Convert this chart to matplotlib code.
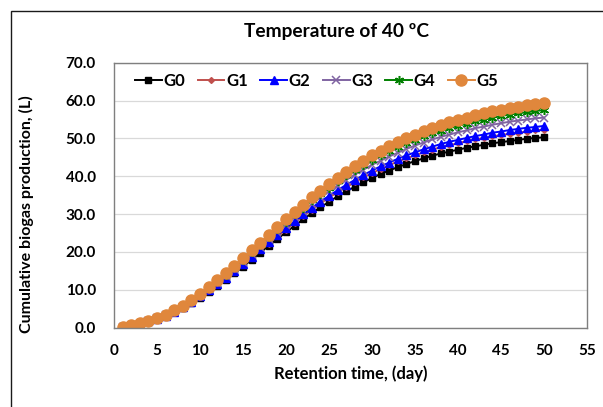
import matplotlib
matplotlib.use("Agg")
import matplotlib.pyplot as plt
from matplotlib.patches import Rectangle

days = list(range(1, 51))

g0 = [0.1, 0.4, 0.9, 1.5, 2.2, 3.0, 4.0, 5.1, 6.4, 7.8, 9.3, 10.9, 12.6, 14.3, 16.1, 17.9, 19.8, 21.6, 23.4, 25.2,
      26.9, 28.6, 30.2, 31.8, 33.2, 34.7, 36.0, 37.2, 38.4, 39.5, 40.6, 41.5, 42.4, 43.2, 44.0, 44.7, 45.4, 46.0, 46.5, 47.0,
      47.5, 47.9, 48.3, 48.7, 49.0, 49.3, 49.6, 49.9, 50.1, 50.3]
g1 = [0.1, 0.4, 0.9, 1.5, 2.3, 3.1, 4.1, 5.3, 6.6, 8.0, 9.6, 11.3, 13.0, 14.7, 16.6, 18.5, 20.4, 22.2, 24.1, 25.9,
      27.7, 29.5, 31.1, 32.8, 34.3, 35.8, 37.1, 38.4, 39.7, 40.8, 41.9, 42.9, 43.9, 44.7, 45.5, 46.3, 47.0, 47.7, 48.2, 48.7,
      49.3, 49.7, 50.1, 50.5, 50.9, 51.2, 51.5, 51.8, 52.1, 52.3]
g2 = [0.1, 0.5, 1.0, 1.6, 2.3, 3.1, 4.2, 5.3, 6.7, 8.2, 9.8, 11.4, 13.2, 15.0, 16.8, 18.7, 20.7, 22.6, 24.5, 26.3,
      28.1, 29.9, 31.6, 33.3, 34.8, 36.3, 37.7, 39.0, 40.3, 41.5, 42.6, 43.6, 44.6, 45.5, 46.3, 47.1, 47.8, 48.5, 49.1, 49.6,
      50.1, 50.6, 51.0, 51.5, 51.8, 52.2, 52.5, 52.8, 53.0, 53.3]
g3 = [0.2, 0.5, 1.0, 1.6, 2.4, 3.2, 4.3, 5.5, 6.9, 8.4, 10.1, 11.8, 13.6, 15.5, 17.4, 19.4, 21.3, 23.3, 25.3, 27.2,
      29.1, 30.9, 32.6, 34.4, 36.0, 37.5, 39.0, 40.4, 41.7, 43.0, 44.1, 45.2, 46.2, 47.2, 48.1, 48.9, 49.7, 50.4, 51.0, 51.6,
      52.1, 52.7, 53.1, 53.6, 54.0, 54.4, 54.7, 55.0, 55.3, 55.5]
g4 = [0.2, 0.6, 1.1, 1.7, 2.4, 3.3, 4.4, 5.7, 7.1, 8.7, 10.4, 12.2, 14.0, 15.9, 17.9, 19.9, 21.9, 23.9, 26.0, 27.9,
      29.9, 31.7, 33.6, 35.3, 37.0, 38.6, 40.2, 41.6, 43.0, 44.3, 45.5, 46.6, 47.7, 48.7, 49.6, 50.5, 51.3, 52.0, 52.7, 53.3,
      53.9, 54.5, 54.9, 55.4, 55.9, 56.3, 56.6, 56.9, 57.2, 57.5]
g5 = [0.2, 0.6, 1.1, 1.7, 2.5, 3.4, 4.5, 5.8, 7.3, 8.9, 10.7, 12.5, 14.4, 16.3, 18.3, 20.4, 22.4, 24.5, 26.6, 28.6,
      30.6, 32.5, 34.4, 36.2, 38.0, 39.6, 41.2, 42.7, 44.1, 45.5, 46.7, 47.9, 49.0, 50.1, 51.0, 51.9, 52.8, 53.5, 54.3, 54.9,
      55.5, 56.1, 56.6, 57.1, 57.6, 58.0, 58.3, 58.7, 59.0, 59.3]

labels = ["G0", "G1", "G2", "G3", "G4", "G5"]
xticks = [0, 5, 10, 15, 20, 25, 30, 35, 40, 45, 50, 55]
yticks = [0, 10, 20, 30, 40, 50, 60, 70]

plt.rcParams['font.family'] = ['Lato', 'DejaVu Sans']

W, H = 603, 407
fig = plt.figure(figsize=(W / 100, H / 100), dpi=100)
fig.patch.set_facecolor('white')

# outer chart frame
fig.patches.append(Rectangle((11 / W, -0.2), 1.5, 1.2 - 11 / H, transform=fig.transFigure,
                             fill=False, edgecolor='#1a1a1a', linewidth=1.0, clip_on=False))

ax = fig.add_axes([114 / W, 1 - 327.5 / H, (587 - 114) / W, (327.5 - 62.7) / H])

styles = [
    dict(color='black', marker='s', ms=4.0),
    dict(color='#C0504D', marker='D', ms=3.0),
    dict(color='#0000FF', marker='^', ms=6.0),
    dict(color='#8064A2', marker='x', ms=6.0, mew=1.1),
    dict(color='#008000', marker=(6, 2, 0), ms=6.5, mew=1.1),
    dict(color='#E0873C', marker='o', ms=8.0),
]
series = [g0, g1, g2, g3, g4, g5]
for lab, vals, st in zip(labels, series, styles):
    ax.plot(days, vals, color=st['color'], lw=1.4, marker=st['marker'], ms=st['ms'],
            mew=st.get('mew', 1.0), mfc=st['color'], mec=st['color'], label=lab)

ax.set_xlim(0, 55)
ax.set_ylim(0, 70)
ax.set_xticks(xticks)
ax.set_yticks(yticks)
ax.set_yticklabels([f"{v:.1f}" for v in yticks])
ax.tick_params(axis='both', length=0, labelsize=11, colors='black')
ax.tick_params(axis='y', pad=13)
ax.tick_params(axis='x', pad=12)
for lbl in ax.get_xticklabels() + ax.get_yticklabels():
    lbl.set_fontweight('bold')

ax.grid(axis='y', color='#D9D9D9', lw=0.9)
ax.set_axisbelow(True)
for sp in ax.spines.values():
    sp.set_color('#7F7F7F')
    sp.set_linewidth(1.0)

ax.set_xlabel("Retention time, (day)", fontsize=12, fontweight='bold', labelpad=5)
ax.set_ylabel("Cumulative biogas production, (L)", fontsize=11.5, fontweight='bold')
ax.yaxis.set_label_coords(-0.17, 0.43)

fig.text(336 / W, 1 - 31 / H, "Temperature of 40 ºC", ha='center', va='center',
         fontsize=13.8, fontweight='bold')

leg = ax.legend(loc='upper left', bbox_to_anchor=(0.02, 1.005), ncol=6, frameon=False,
                handlelength=1.6, handletextpad=0.1, columnspacing=0.75,
                prop={'weight': 'bold', 'size': 12}, borderaxespad=0.3)

fig.savefig("out.png", dpi=100)
